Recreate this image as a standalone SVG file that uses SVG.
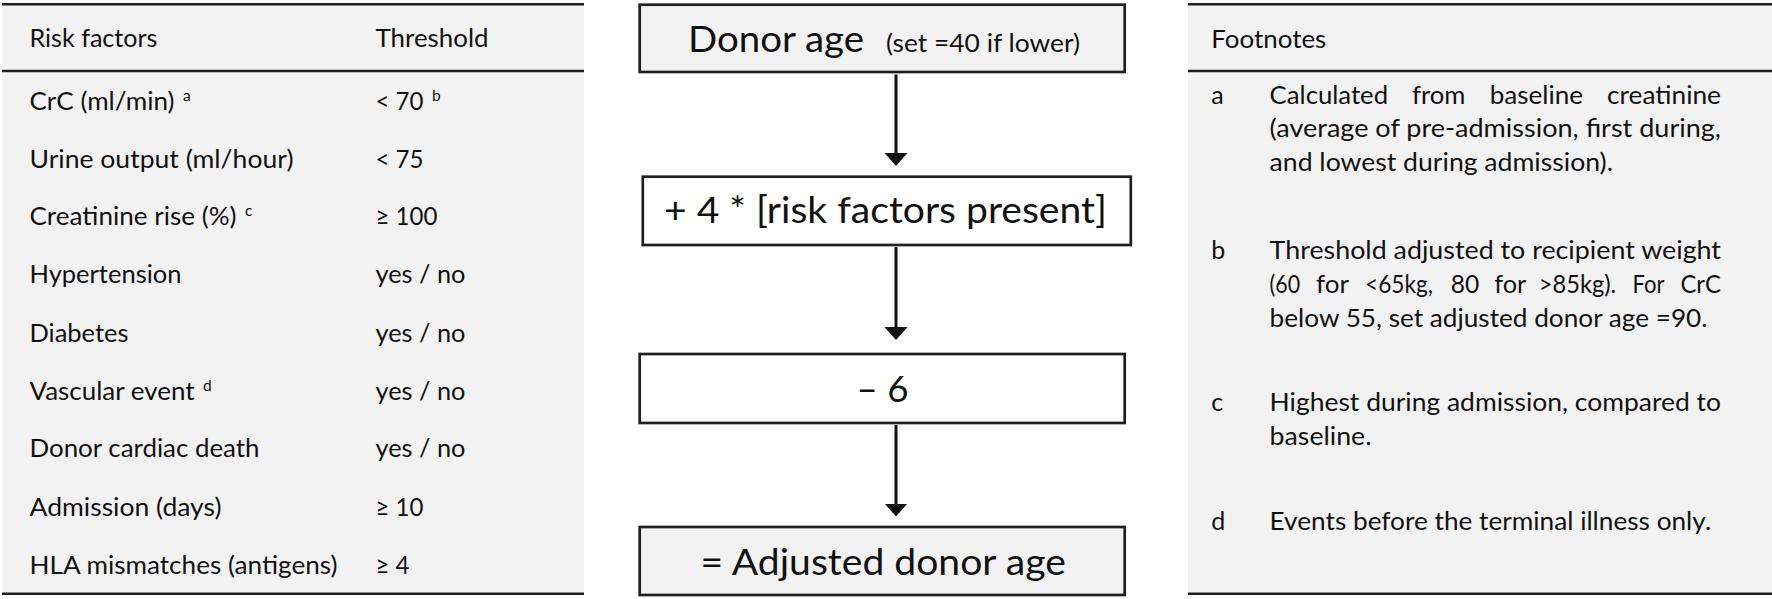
<svg xmlns="http://www.w3.org/2000/svg" width="1772" height="599" viewBox="0 0 1772 599">
<style>
.panel{fill:#f2f2f2}
.rule{stroke:#1f1f1f;stroke-width:2.6;fill:none}
.box{stroke:#1f1f1f;stroke-width:2.7}
.gray{fill:#f2f2f2}
.white{fill:#ffffff}
text{font-family:Lato,"Liberation Sans","DejaVu Sans",sans-serif;fill:#111111}
.t{font-size:25px}
.big{font-size:37px}
.mid{font-size:25px}
.sup{font-size:15.5px}
.conn{stroke:#111111;stroke-width:3;fill:none}
</style>
<defs>
<marker id="ah" markerUnits="userSpaceOnUse" markerWidth="14" markerHeight="24" viewBox="0 0 14 24" refX="0.5" refY="11.5" orient="auto">
<path d="M0,0 L13,11.5 L0,23 z" fill="#111111"/>
</marker>
</defs>
<rect width="1772" height="599" fill="#ffffff"/>

<g id="risk-table">
<rect class="panel" x="2" y="4.3" width="582" height="589.4"/>
<line class="rule" x1="2" y1="4.3" x2="584" y2="4.3"/>
<line class="rule" x1="2" y1="71" x2="584" y2="71"/>
<line class="rule" x1="2" y1="593.7" x2="584" y2="593.7"/>
<text class="t" x="29.5" y="47" textLength="128" lengthAdjust="spacingAndGlyphs">Risk factors</text>
<text class="t" x="375.5" y="47" textLength="113" lengthAdjust="spacingAndGlyphs">Threshold</text>

<text class="t" x="29.5" y="110" textLength="145" lengthAdjust="spacingAndGlyphs">CrC (ml/min)</text>
<text class="sup" x="183" y="100.5">a</text>
<text class="t" x="375.5" y="110" textLength="48" lengthAdjust="spacingAndGlyphs">&lt; 70</text>
<text class="sup" x="432" y="100.5">b</text>

<text class="t" x="29.5" y="167.5" textLength="264" lengthAdjust="spacingAndGlyphs">Urine output (ml/hour)</text>
<text class="t" x="375.5" y="167.5" textLength="48" lengthAdjust="spacingAndGlyphs">&lt; 75</text>

<text class="t" x="29.5" y="225" textLength="207" lengthAdjust="spacingAndGlyphs">Creatinine rise (%)</text>
<text class="sup" x="245" y="216">c</text>
<text class="t" x="375.5" y="225" textLength="62" lengthAdjust="spacingAndGlyphs">≥ 100</text>

<text class="t" x="29.5" y="283" textLength="152" lengthAdjust="spacingAndGlyphs">Hypertension</text>
<text class="t" x="375.5" y="283" textLength="90" lengthAdjust="spacingAndGlyphs">yes / no</text>

<text class="t" x="29.5" y="341.7" textLength="99" lengthAdjust="spacingAndGlyphs">Diabetes</text>
<text class="t" x="375.5" y="341.7" textLength="90" lengthAdjust="spacingAndGlyphs">yes / no</text>

<text class="t" x="29.5" y="400" textLength="165" lengthAdjust="spacingAndGlyphs">Vascular event</text>
<text class="sup" x="203" y="390.7">d</text>
<text class="t" x="375.5" y="400" textLength="90" lengthAdjust="spacingAndGlyphs">yes / no</text>

<text class="t" x="29.5" y="457.3" textLength="230" lengthAdjust="spacingAndGlyphs">Donor cardiac death</text>
<text class="t" x="375.5" y="457.3" textLength="90" lengthAdjust="spacingAndGlyphs">yes / no</text>

<text class="t" x="29.5" y="515.5" textLength="192" lengthAdjust="spacingAndGlyphs">Admission (days)</text>
<text class="t" x="375.5" y="515.5" textLength="48" lengthAdjust="spacingAndGlyphs">≥ 10</text>

<text class="t" x="29.5" y="573.5" textLength="308" lengthAdjust="spacingAndGlyphs">HLA mismatches (antigens)</text>
<text class="t" x="375.5" y="573.5" textLength="34" lengthAdjust="spacingAndGlyphs">≥ 4</text>
</g>

<g id="box-donor-age">
<rect class="box gray" x="639.7" y="4.7" width="485" height="67.3"/>
<text class="big" x="688" y="52.3" textLength="176" lengthAdjust="spacingAndGlyphs">Donor age</text>
<text class="mid" x="886" y="52.3" textLength="194" lengthAdjust="spacingAndGlyphs">(set =40 if lower)</text>
</g>

<g id="box-risk-factors">
<rect class="box white" x="642.8" y="176.7" width="488" height="68.3"/>
<text class="big" x="664" y="223.3" textLength="443" lengthAdjust="spacingAndGlyphs">+ 4 * [risk factors present]</text>
</g>

<g id="box-minus6">
<rect class="box white" x="639.7" y="354" width="485" height="69"/>
<text class="big" x="856.5" y="401.7" textLength="52" lengthAdjust="spacingAndGlyphs">– 6</text>
</g>

<g id="box-adjusted">
<rect class="box gray" x="639.7" y="527" width="485" height="68"/>
<text class="big" x="700.4" y="575" textLength="365.5" lengthAdjust="spacingAndGlyphs">= Adjusted donor age</text>
</g>

<g id="connectors">
<line class="conn" x1="896" y1="74.5" x2="896" y2="153.5" marker-end="url(#ah)"/>
<line class="conn" x1="896" y1="247" x2="896" y2="327.5" marker-end="url(#ah)"/>
<line class="conn" x1="896" y1="425" x2="896" y2="504" marker-end="url(#ah)"/>
</g>

<g id="footnotes">
<rect class="panel" x="1188" y="4.3" width="584" height="589.4"/>
<line class="rule" x1="1188" y1="4.3" x2="1772" y2="4.3"/>
<line class="rule" x1="1188" y1="71" x2="1772" y2="71"/>
<line class="rule" x1="1188" y1="593.7" x2="1772" y2="593.7"/>
<text class="t" x="1211.3" y="47.5" textLength="115" lengthAdjust="spacingAndGlyphs">Footnotes</text>

<text class="t" x="1211.3" y="104">a</text>
<text class="t" x="1269.6" y="104" textLength="118.5" lengthAdjust="spacingAndGlyphs">Calculated</text>
<text class="t" x="1412" y="104" textLength="53.4" lengthAdjust="spacingAndGlyphs">from</text>
<text class="t" x="1489.7" y="104" textLength="93.4" lengthAdjust="spacingAndGlyphs">baseline</text>
<text class="t" x="1607" y="104" textLength="114" lengthAdjust="spacingAndGlyphs">creatinine</text>
<text class="t" x="1269.6" y="137" textLength="451.4" lengthAdjust="spacingAndGlyphs">(average of pre-admission, first during,</text>
<text class="t" x="1269.6" y="170.7" textLength="343.4" lengthAdjust="spacingAndGlyphs">and lowest during admission).</text>

<text class="t" x="1211.3" y="259">b</text>
<text class="t" x="1269.6" y="259" textLength="451.4" lengthAdjust="spacingAndGlyphs">Threshold adjusted to recipient weight</text>
<text class="t" x="1269.6" y="293" textLength="30.5" lengthAdjust="spacingAndGlyphs">(60</text>
<text class="t" x="1316" y="293" textLength="33" lengthAdjust="spacingAndGlyphs">for</text>
<text class="t" x="1365" y="293" textLength="68" lengthAdjust="spacingAndGlyphs">&lt;65kg,</text>
<text class="t" x="1450.7" y="293" textLength="28.5" lengthAdjust="spacingAndGlyphs">80</text>
<text class="t" x="1494.3" y="293" textLength="32" lengthAdjust="spacingAndGlyphs">for</text>
<text class="t" x="1538.7" y="293" textLength="77.5" lengthAdjust="spacingAndGlyphs">&gt;85kg).</text>
<text class="t" x="1632.5" y="293" textLength="32" lengthAdjust="spacingAndGlyphs">For</text>
<text class="t" x="1680.4" y="293" textLength="40.6" lengthAdjust="spacingAndGlyphs">CrC</text>
<text class="t" x="1269.6" y="326.7" textLength="437.9" lengthAdjust="spacingAndGlyphs">below 55, set adjusted donor age =90.</text>

<text class="t" x="1211.3" y="411">c</text>
<text class="t" x="1269.6" y="411" textLength="451.4" lengthAdjust="spacingAndGlyphs">Highest during admission, compared to</text>
<text class="t" x="1269.6" y="445" textLength="101.9" lengthAdjust="spacingAndGlyphs">baseline.</text>

<text class="t" x="1211.3" y="530">d</text>
<text class="t" x="1269.6" y="530" textLength="441.5" lengthAdjust="spacingAndGlyphs">Events before the terminal illness only.</text>
</g>
</svg>
